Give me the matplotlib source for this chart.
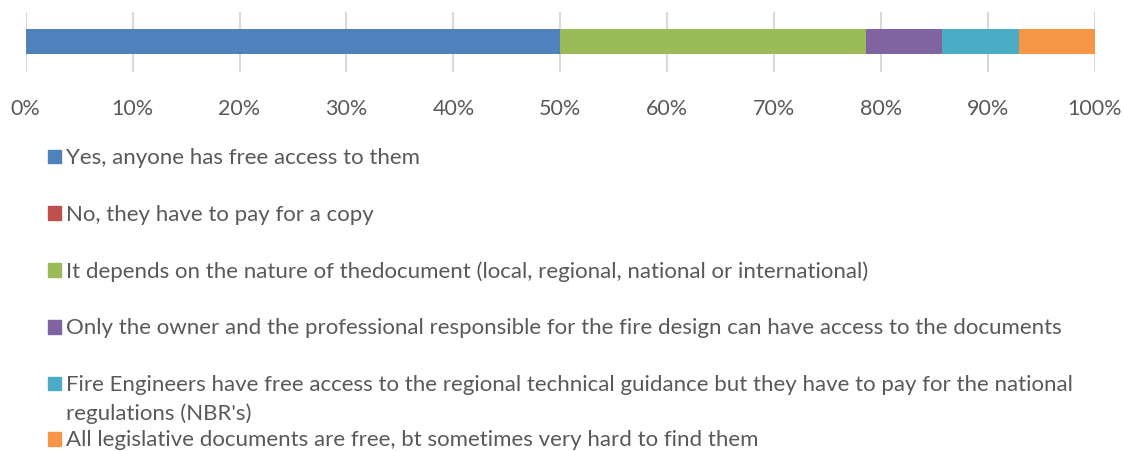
import matplotlib
matplotlib.use("Agg")
import matplotlib.pyplot as plt
from matplotlib.patches import Rectangle

plt.rcParams['font.family'] = ['Lato', 'DejaVu Sans']

# Share of respondents per answer (%)
answers = [
    "Yes, anyone has free access to them",
    "No, they have to pay for a copy",
    "It depends on the nature of thedocument (local, regional, national or international)",
    "Only the owner and the professional responsible for the fire design can have access to the documents",
    "Fire Engineers have free access to the regional technical guidance but they have to pay for the national\nregulations (NBR's)",
    "All legislative documents are free, bt sometimes very hard to find them",
]
shares = [50.0, 0.0, 28.57, 7.14, 7.14, 7.15]
colors = ["#4F81BD", "#C0504D", "#9BBB59", "#8064A2", "#4BACC6", "#F79646"]
tick_values = [0, 10, 20, 30, 40, 50, 60, 70, 80, 90, 100]
tick_labels = [f"{v}%" for v in tick_values]

W, H = 1124, 452
fig = plt.figure(figsize=(W / 100, H / 100), dpi=100)
ax = fig.add_axes([25.7 / W, 1 - 73 / H, (1095 - 25.7) / W, (73 - 12.7) / H])

left = 0.0
for share, color in zip(shares, colors):
    ax.barh(0, share, left=left, height=0.415, color=color, zorder=2)
    left += share

ax.set_xlim(0, 100)
ax.set_ylim(-0.5, 0.5)
ax.set_xticks(tick_values)
ax.set_xticklabels(tick_labels)
ax.set_yticks([])
ax.tick_params(axis='x', length=0, pad=19, labelsize=15.5, labelcolor="#595959")
ax.grid(axis='x', color="#D9D9D9", linewidth=1.5, zorder=0)
for s in ax.spines.values():
    s.set_visible(False)

# Legend entries stacked below the bar: square marker + (possibly wrapped) label
text_color = "#595959"
baseline_y = [164, 220.7, 277.5, 334.5, 391, 446.5]
line_step = 29
for label, color, y in zip(answers, colors, baseline_y):
    fig.patches.append(Rectangle((48 / W, 1 - y / H), 12.5 / W, 13.5 / H,
                                 transform=fig.transFigure, color=color))
    for i, line in enumerate(label.split("\n")):
        fig.text(66.5 / W, 1 - (y + i * line_step) / H, line, fontsize=16,
                 color=text_color, va='baseline', ha='left')

fig.savefig("out.png", dpi=100)
